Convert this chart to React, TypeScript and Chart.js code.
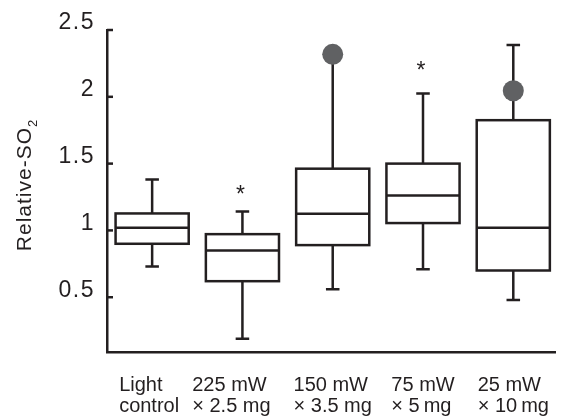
import React, { useEffect, useRef } from "react";
import { Chart, registerables } from "chart.js";

Chart.register(...registerables);

// ---- data ----
const categoriesLine1 = ["Light", "225 mW", "150 mW", "75 mW", "25 mW"];
const categoriesLine2 = ["control", "× 2.5 mg", "× 3.5 mg", "× 5\u2009mg", "× 10\u2009mg"];
const whiskerLow = [0.73, 0.19, 0.56, 0.71, 0.48];
const q1 = [0.9, 0.62, 0.89, 1.055, 0.7];
const median = [1.02, 0.85, 1.125, 1.262, 1.02];
const q3 = [1.127, 0.972, 1.462, 1.5, 1.825];
const whiskerHigh = [1.382, 1.142, 2.318, 2.025, 2.387];
const outlierCategory = [3, 5];
const outlierValue = [2.318, 2.045];
const asteriskCategory = [2, 4];
const asteriskValue = [1.3, 2.225];
const yTicks = [0.5, 1, 1.5, 2, 2.5];
const yMin = 0.09;
const yMax = 2.5;

// ---- style ----
const INK = "#231f20";
const OUTLIER = "#606163";
const FONT = "'Liberation Sans', Arial, Helvetica, sans-serif";
const BOX_HALF = 0.405;
const CAP_HALF = 0.075;
const LABEL_NUDGE = [-3, -11, 0, 0, 0];

const boxPlugin = {
  id: "boxDraw",
  beforeDraw(chart: any) {
    (chart.ctx as any).letterSpacing = "1.5px";
  },
  beforeDatasetsDraw(chart: any) {
    const ctx = chart.ctx;
    (ctx as any).letterSpacing = "0px";
    const x = chart.scales.x;
    const y = chart.scales.y;
    ctx.save();
    ctx.strokeStyle = INK;
    ctx.lineWidth = 2.5;
    ctx.lineCap = "butt";
    // inward tick marks on y axis
    const left = chart.chartArea.left;
    yTicks.forEach((v) => {
      const py = y.getPixelForValue(v);
      ctx.beginPath();
      ctx.moveTo(left, py);
      ctx.lineTo(left + 6, py);
      ctx.stroke();
    });
    for (let i = 0; i < q1.length; i++) {
      const c = i + 1;
      const cx = x.getPixelForValue(c);
      const xl = x.getPixelForValue(c - BOX_HALF);
      const xr = x.getPixelForValue(c + BOX_HALF);
      const cl = x.getPixelForValue(c - CAP_HALF);
      const cr = x.getPixelForValue(c + CAP_HALF);
      const yq1 = y.getPixelForValue(q1[i]);
      const yq3 = y.getPixelForValue(q3[i]);
      const ym = y.getPixelForValue(median[i]);
      const ylo = y.getPixelForValue(whiskerLow[i]);
      const yhi = y.getPixelForValue(whiskerHigh[i]);
      ctx.beginPath();
      ctx.moveTo(cx, yq3);
      ctx.lineTo(cx, yhi);
      ctx.moveTo(cl, yhi);
      ctx.lineTo(cr, yhi);
      ctx.moveTo(cx, yq1);
      ctx.lineTo(cx, ylo);
      ctx.moveTo(cl, ylo);
      ctx.lineTo(cr, ylo);
      ctx.stroke();
      ctx.fillStyle = "#ffffff";
      ctx.fillRect(xl, yq3, xr - xl, yq1 - yq3);
      ctx.strokeRect(xl, yq3, xr - xl, yq1 - yq3);
      ctx.beginPath();
      ctx.moveTo(xl, ym);
      ctx.lineTo(xr, ym);
      ctx.stroke();
    }
    // asterisks
    ctx.fillStyle = INK;
    ctx.font = `23px ${FONT}`;
    ctx.textAlign = "center";
    ctx.textBaseline = "middle";
    asteriskCategory.forEach((c, k) => {
      const px = x.getPixelForValue(c) - 2;
      const py = y.getPixelForValue(asteriskValue[k]);
      ctx.fillText("*", px, py + 5);
    });
    ctx.restore();
  },
  afterDraw(chart: any) {
    const ctx = chart.ctx;
    const x = chart.scales.x;
    ctx.save();
    ctx.fillStyle = INK;
    ctx.font = `20px ${FONT}`;
    ctx.textBaseline = "alphabetic";
    ctx.textAlign = "left";
    for (let i = 0; i < categoriesLine1.length; i++) {
      const cx = x.getPixelForValue(i + 1);
      const w = Math.max(
        ctx.measureText(categoriesLine1[i]).width,
        ctx.measureText(categoriesLine2[i]).width
      );
      const lx = cx - w / 2 + LABEL_NUDGE[i];
      ctx.fillText(categoriesLine1[i], lx, 391);
      ctx.fillText(categoriesLine2[i], lx, 412);
    }
    // y title with subscript
    const main = "Relative-SO";
    const sub = "2";
    ctx.font = `21px ${FONT}`;
    (ctx as any).letterSpacing = "1px";
    const wMain = ctx.measureText(main).width;
    ctx.font = `13px ${FONT}`;
    const wSub = ctx.measureText(sub).width;
    const total = wMain + wSub;
    ctx.translate(31, 185);
    ctx.rotate(-Math.PI / 2);
    ctx.font = `21px ${FONT}`;
    ctx.fillText(main, -total / 2, 0);
    ctx.font = `13px ${FONT}`;
    ctx.fillText(sub, -total / 2 + wMain, 6);
    ctx.restore();
  },
};

export default function App() {
  const ref = useRef<HTMLCanvasElement | null>(null);
  useEffect(() => {
    if (!ref.current) return;
    const chart = new Chart(ref.current, {
      type: "scatter",
      data: {
        datasets: [
          {
            data: outlierCategory.map((c, k) => ({ x: c, y: outlierValue[k] })),
            backgroundColor: OUTLIER,
            borderColor: OUTLIER,
            pointRadius: 10.5,
            pointBorderWidth: 0,
          },
        ],
      },
      options: {
        responsive: false,
        animation: false,
        events: [],
        layout: { padding: { top: 30, right: 0, bottom: 0, left: 0 } },
        plugins: { legend: { display: false }, tooltip: { enabled: false } },
        scales: {
          x: {
            type: "linear",
            min: 0.5,
            max: 0.5 + (566 - 107) / 92.4,
            grid: { display: false },
            ticks: { display: false },
            border: { display: true, color: INK, width: 2.5 },
            afterFit: (s: any) => {
              s.height = 65;
            },
          },
          y: {
            type: "linear",
            min: yMin,
            max: yMax,
            afterBuildTicks: (s: any) => {
              s.ticks = yTicks.map((v) => ({ value: v }));
            },
            grid: { display: false, drawTicks: false },
            ticks: {
              color: INK,
              font: { family: FONT, size: 23 },
              padding: 12,
              labelOffset: -7,
              callback: (v: any) => String(v),
            },
            border: { display: true, color: INK, width: 2.5 },
            afterFit: (s: any) => {
              s.width = 107;
            },
          },
        },
      },
      plugins: [boxPlugin],
    });
    return () => chart.destroy();
  }, []);
  return (
    <canvas
      ref={ref}
      width={566}
      height={417}
      style={{ position: "fixed", left: 0, top: 0, display: "block", background: "#ffffff" }}
    />
  );
}
